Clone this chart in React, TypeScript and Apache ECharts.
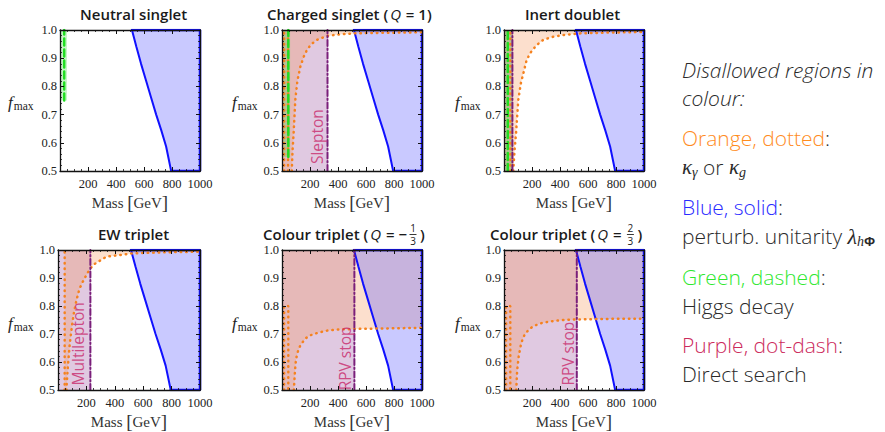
import React, { useEffect, useRef } from 'react';
import * as echarts from 'echarts';

// ---------------- data ----------------
// Blue, solid: perturbative unitarity boundary (same in every panel)
const blueMass = [514, 546, 579, 615, 651, 687, 723, 758, 794];
const blueF = [1.0, 0.94, 0.88, 0.82, 0.76, 0.7, 0.645, 0.587, 0.5];

// Orange, dotted: kappa_gamma / kappa_g boundaries
const orangeChargedMass = [70, 75, 83, 95, 110, 131, 155, 179, 210, 250, 321, 420, 512, 700, 1000];
const orangeChargedF = [0.5, 0.57, 0.634, 0.752, 0.82, 0.87, 0.905, 0.93, 0.95, 0.965, 0.979, 0.985, 0.988, 0.99, 0.992];
const orangeInertMass = [66, 75, 86, 102, 120, 138, 160, 185, 230, 280, 350, 423, 541, 750, 1000];
const orangeInertF = [0.5, 0.57, 0.634, 0.752, 0.81, 0.846, 0.89, 0.917, 0.945, 0.965, 0.976, 0.982, 0.988, 0.991, 0.993];
const orangeEwMass = [59, 65, 71, 82, 94, 110, 129, 150, 176, 210, 247, 341, 529, 750, 1000];
const orangeEwF = [0.5, 0.55, 0.594, 0.66, 0.712, 0.77, 0.818, 0.86, 0.888, 0.92, 0.947, 0.976, 0.988, 0.992, 0.994];
const orangeColourAMass = [85, 88, 93, 100, 115, 130, 143, 170, 200, 260, 320, 400, 520, 750, 1000];
const orangeColourAF = [0.5, 0.53, 0.57, 0.61, 0.64, 0.658, 0.668, 0.685, 0.695, 0.705, 0.712, 0.716, 0.718, 0.72, 0.722];
const orangeColourBMass = [88, 90, 94, 105, 120, 135, 150, 180, 210, 260, 330, 420, 520, 750, 1000];
const orangeColourBF = [0.5, 0.53, 0.57, 0.62, 0.66, 0.685, 0.7, 0.717, 0.728, 0.738, 0.745, 0.75, 0.752, 0.754, 0.755];
// where each orange region starts on the mass axis
const orangeStartMass = [null, 0, 0, 47, 0, 0];
// extra dotted orange contours near the left edge
const orangeExtraCharged = [[[15, 0.5], [15, 1.0]], [[43, 0.5], [43, 1.0]]];
const orangeExtraInert = [[[46, 0.5], [46, 1.0]]];
const orangeExtraEw = [[[47, 0.5], [47, 1.0]]];
const orangeExtraColour = [[[15, 0.5], [15, 0.8], [45, 0.8], [45, 0.5]]];

// Green, dashed: Higgs decay (mass edge, lower f, dashed contour mass)
const greenEdgeMass = [50, 58, 60, null, null, null];
const greenLowF = [0.75, 0.55, 0.5, null, null, null];
const greenDashMass = [30, 45, 27, null, null, null];

// Purple, dot-dash: direct search upper mass
const purpleEdgeMass = [null, 325, 60, 228, 517, 520];
const searchLabels = ['', 'Slepton', '', 'Multilepton', 'RPV stop', 'RPV stop'];
const searchLabelMass = [null, 250, null, 141, 448, 457];
const searchLabelF = [null, 0.622, null, 0.665, 0.613, 0.63];

const massRange = [0, 1000];
const fRange = [0.5, 1.0];

// ---------------- styles ----------------
const SANS = 'Open Sans';
const SERIF = 'Liberation Serif';
const C_ORANGE_FILL = 'rgba(245,150,90,0.3)';
const C_PURPLE_FILL = 'rgba(140,55,145,0.27)';
const C_GREEN_FILL = 'rgba(60,220,60,0.28)';
const C_BLUE_FILL = 'rgba(90,90,255,0.33)';
const C_ORANGE_LINE = '#f5821f';
const C_BLUE_LINE = '#1010ff';
const C_GREEN_LINE = '#22dd22';
const C_PURPLE_LINE = '#7a1f7a';
const C_LABEL = '#c8286a';

const layout = [
  { left: 60, top: 30, w: 140, h: 141 },
  { left: 282, top: 30, w: 140, h: 141 },
  { left: 504, top: 30, w: 140, h: 141 },
  { left: 58, top: 250, w: 142, h: 142 },
  { left: 282, top: 250, w: 140, h: 142 },
  { left: 504, top: 250, w: 140, h: 142 },
];

const orangeCurves: (null | { m: number[]; f: number[]; extra: number[][][] })[] = [
  null,
  { m: orangeChargedMass, f: orangeChargedF, extra: orangeExtraCharged },
  { m: orangeInertMass, f: orangeInertF, extra: orangeExtraInert },
  { m: orangeEwMass, f: orangeEwF, extra: orangeExtraEw },
  { m: orangeColourAMass, f: orangeColourAF, extra: orangeExtraColour },
  { m: orangeColourBMass, f: orangeColourBF, extra: orangeExtraColour },
];

const zip = (m: number[], f: number[]) => m.map((v, i) => [v, f[i]]);

function fillSeries(p: number, data: number[][], color: string) {
  return {
    type: 'line', xAxisIndex: 2 * p, yAxisIndex: 2 * p, data, symbol: 'none', silent: true, z: 1,
    lineStyle: { width: 0, opacity: 0 }, areaStyle: { color, origin: 'end', opacity: 1 },
  };
}
function lineSeries(p: number, data: number[][], color: string, width: number, type: any, z = 3) {
  return {
    type: 'line', xAxisIndex: 2 * p, yAxisIndex: 2 * p, data, symbol: 'none', silent: true, z,
    lineStyle: { color, width, type, cap: 'round' },
  };
}

function buildSeries() {
  const series: any[] = [];
  for (let p = 0; p < 6; p++) {
    const oc = orangeCurves[p];
    if (purpleEdgeMass[p] != null) {
      series.push(fillSeries(p, [[massRange[0], fRange[0]], [purpleEdgeMass[p] as number, fRange[0]]], C_PURPLE_FILL));
    }
    if (oc) {
      series.push(fillSeries(p, [[orangeStartMass[p] as number, fRange[0]], ...zip(oc.m, oc.f)], C_ORANGE_FILL));
    }
    if (greenEdgeMass[p] != null) {
      series.push(fillSeries(p, [[massRange[0], greenLowF[p] as number], [greenEdgeMass[p] as number, greenLowF[p] as number]], C_GREEN_FILL));
    }
    const blue = zip(blueMass, blueF);
    series.push(fillSeries(p, [...blue, [massRange[1], fRange[0]]], C_BLUE_FILL));
    // lines
    series.push(lineSeries(p, [[blueMass[blueMass.length - 1], fRange[0]], [massRange[1], fRange[0]], [massRange[1], fRange[1]], [blueMass[0], fRange[1]]], C_BLUE_LINE, 2.5, 'solid', 2));
    series.push(lineSeries(p, blue, C_BLUE_LINE, 2, 'solid'));
    if (oc) {
      series.push(lineSeries(p, zip(oc.m, oc.f), C_ORANGE_LINE, 2.5, [0.5, 5]));
      oc.extra.forEach((seg) => series.push(lineSeries(p, seg, C_ORANGE_LINE, 2.5, [0.5, 5])));
    }
    if (greenDashMass[p] != null) {
      series.push(lineSeries(p, [[greenDashMass[p] as number, greenLowF[p] as number], [greenDashMass[p] as number, fRange[1]]], C_GREEN_LINE, 2.5, [7, 4]));
    }
    if (purpleEdgeMass[p] != null) {
      series.push(lineSeries(p, [[purpleEdgeMass[p] as number, fRange[0]], [purpleEdgeMass[p] as number, fRange[1]]], C_PURPLE_LINE, 2, [6, 2.5, 1.5, 2.5]));
    }
    if (searchLabels[p]) {
      series.push({
        type: 'scatter', xAxisIndex: 2 * p, yAxisIndex: 2 * p, silent: true, z: 4,
        symbolSize: 1, itemStyle: { color: 'rgba(0,0,0,0)' },
        data: [{ value: [searchLabelMass[p], searchLabelF[p]], name: searchLabels[p] }],
        label: { show: true, position: 'inside', rotate: 90, formatter: '{b}', color: C_LABEL, fontSize: 15.5, fontFamily: SANS },
      });
    }
  }
  return series;
}

function buildAxes() {
  const xAxis: any[] = [];
  const yAxis: any[] = [];
  const lineStyle = { color: '#111', width: 1.3 };
  const tick = { show: true, inside: true, length: 4, lineStyle: { color: '#111', width: 1 } };
  for (let p = 0; p < 6; p++) {
    const common = { gridIndex: p, type: 'value', min: massRange[0], max: massRange[1], interval: 200, z: 6,
      axisLine: { show: true, onZero: false, lineStyle }, axisTick: tick,
      minorTick: { show: true, splitNumber: 4, length: 2, lineStyle: { color: '#111', width: 0.8 } },
      splitLine: { show: false }, minorSplitLine: { show: false } };
    xAxis.push({ ...common, position: 'bottom',
      axisLabel: { formatter: (v: number) => (v === 0 ? '' : String(v)), fontFamily: SERIF, fontSize: 12.5, color: '#222', margin: 6 },
      name: '{m|Mass }{b|[}{g|GeV}{b|]}', nameLocation: 'middle', nameGap: 22,
      nameTextStyle: { rich: { m: { fontFamily: SERIF, fontSize: 15, color: '#333' }, g: { fontFamily: SERIF, fontSize: 15, color: '#333' }, b: { fontFamily: SERIF, fontSize: 19, color: '#333' } } } });
    xAxis.push({ ...common, position: 'top', axisLabel: { show: false } });
    const ycommon = { gridIndex: p, type: 'value', min: fRange[0], max: fRange[1], interval: 0.1, z: 6,
      axisLine: { show: true, onZero: false, lineStyle }, axisTick: tick,
      minorTick: { show: true, splitNumber: 5, length: 2, lineStyle: { color: '#111', width: 0.8 } },
      splitLine: { show: false }, minorSplitLine: { show: false } };
    yAxis.push({ ...ycommon, position: 'left',
      axisLabel: { formatter: (v: number) => v.toFixed(1), fontFamily: SERIF, fontSize: 12.5, color: '#222', margin: 3 } });
    yAxis.push({ ...ycommon, position: 'right', axisLabel: { show: false } });
  }
  return { xAxis, yAxis };
}

type Piece = { t: string; size: number; family?: string; style?: string; weight?: any; color?: string; dy?: number; gap?: number };
let measureCtx: CanvasRenderingContext2D | null = null;
function measure(p: Piece) {
  if (!measureCtx) measureCtx = document.createElement('canvas').getContext('2d');
  measureCtx!.font = `${p.style ?? 'normal'} ${p.weight ?? 'normal'} ${p.size}px "${p.family ?? SANS}"`;
  return measureCtx!.measureText(p.t).width;
}
function flow(x0: number, y: number, pieces: Piece[], out: any[]) {
  let x = x0;
  for (const p of pieces) {
    out.push({ type: 'text', x, y: y + (p.dy ?? 0), silent: true, z: 20,
      style: { text: p.t, fontSize: p.size, fontFamily: p.family ?? SANS, fontStyle: p.style ?? 'normal', fontWeight: p.weight ?? 'normal', fill: p.color ?? '#222', align: 'left', verticalAlign: 'middle' } });
    x += measure(p) + (p.gap ?? 0);
  }
  return x;
}
function fraction(x: number, y: number, num: string, den: string, out: any[]) {
  out.push({ type: 'text', x: x + 4, y: y - 6, silent: true, z: 20, style: { text: num, fontSize: 10, fontFamily: SANS, fill: '#222', align: 'center', verticalAlign: 'middle' } });
  out.push({ type: 'line', silent: true, z: 20, shape: { x1: x + 0.5, y1: y + 0.5, x2: x + 7.5, y2: y + 0.5 }, style: { stroke: '#222', lineWidth: 0.9 } });
  out.push({ type: 'text', x: x + 4, y: y + 6.5, silent: true, z: 20, style: { text: den, fontSize: 10, fontFamily: SANS, fill: '#222', align: 'center', verticalAlign: 'middle' } });
  return x + 9;
}

function buildGraphics() {
  const g: any[] = [];
  const T = (t: string, gap = 0): Piece => ({ t, size: 15, weight: 600, color: '#1a1a1a', gap });
  const Q: Piece = { t: 'Q', size: 15, style: 'italic', color: '#1a1a1a', gap: 1 };
  const y1 = 13.5;
  const y2 = 234;
  flow(80, y1, [T('Neutral singlet')], g);
  flow(267, y1, [T('Charged singlet (', 2), Q, T(' = 1)')], g);
  flow(525, y1, [T('Inert doublet')], g);
  flow(98, y2, [T('EW triplet')], g);
  let e = flow(263, y2, [T('Colour triplet (', 2), Q, T(' = −')], g);
  e = fraction(e + 2, y2, '1', '3', g);
  flow(e + 2, y2, [T(')')], g);
  e = flow(490, y2, [T('Colour triplet (', 2), Q, T(' = ')], g);
  e = fraction(e + 1, y2, '2', '3', g);
  flow(e + 2, y2, [T(')')], g);

  // f_max labels
  const fx = [8, 232, 455];
  [102, 323].forEach((y) => fx.forEach((x) => flow(x, y, [
    { t: 'f', size: 17, family: SERIF, style: 'italic', color: '#222', gap: 1 },
    { t: 'max', size: 11.5, family: SERIF, color: '#222', dy: 4 },
  ], g)));

  // legend
  const L = 682;
  const S = 21;
  const D = '#2a2a2a';
  flow(L, 70, [{ t: 'Disallowed regions in', size: S, style: 'italic', weight: 300, color: D }], g);
  flow(L, 98, [{ t: 'colour:', size: S, style: 'italic', weight: 300, color: D }], g);
  flow(L, 138, [{ t: 'Orange, dotted', size: S, weight: 300, color: '#ff8c1e' }, { t: ':', size: S, weight: 300, color: D }], g);
  flow(L, 167, [
    { t: 'κ', size: 21, family: SERIF, style: 'italic', color: D },
    { t: 'γ', size: 14, family: SERIF, style: 'italic', color: D, dy: 5 },
    { t: ' or ', size: S, weight: 300, color: D },
    { t: 'κ', size: 21, family: SERIF, style: 'italic', color: D },
    { t: 'g', size: 14, family: SERIF, style: 'italic', color: D, dy: 5 },
  ], g);
  flow(L, 207, [{ t: 'Blue, solid', size: S, weight: 300, color: '#2a2aff' }, { t: ':', size: S, weight: 300, color: D }], g);
  flow(L, 236, [
    { t: 'perturb. unitarity ', size: S, weight: 300, color: D },
    { t: 'λ', size: 22, family: SERIF, style: 'italic', color: D },
    { t: 'h', size: 14, family: SERIF, style: 'italic', color: D, dy: 5 },
    { t: 'Φ', size: 13, weight: 700, color: D, dy: 5 },
  ], g);
  flow(L, 277, [{ t: 'Green, dashed', size: S, weight: 300, color: '#2ee82e' }, { t: ':', size: S, weight: 300, color: D }], g);
  flow(L, 306, [{ t: 'Higgs decay', size: S, weight: 300, color: D }], g);
  flow(L, 345, [{ t: 'Purple, dot-dash', size: S, weight: 300, color: '#cc2a5c' }, { t: ':', size: S, weight: 300, color: D }], g);
  flow(L, 374, [{ t: 'Direct search', size: S, weight: 300, color: D }], g);
  return g;
}

function buildOption() {
  const { xAxis, yAxis } = buildAxes();
  return {
    animation: false,
    backgroundColor: '#ffffff',
    grid: layout.map((l) => ({ left: l.left, top: l.top, width: l.w, height: l.h, show: false })),
    xAxis,
    yAxis,
    series: buildSeries(),
    graphic: buildGraphics(),
  };
}

export default function App() {
  const ref = useRef<HTMLDivElement>(null);
  useEffect(() => {
    const chart = echarts.init(ref.current!, null, { renderer: 'svg' });
    chart.setOption(buildOption() as any);
    return () => chart.dispose();
  }, []);
  return <div ref={ref} style={{ position: 'absolute', left: 0, top: 0, width: 885, height: 432 }} />;
}
